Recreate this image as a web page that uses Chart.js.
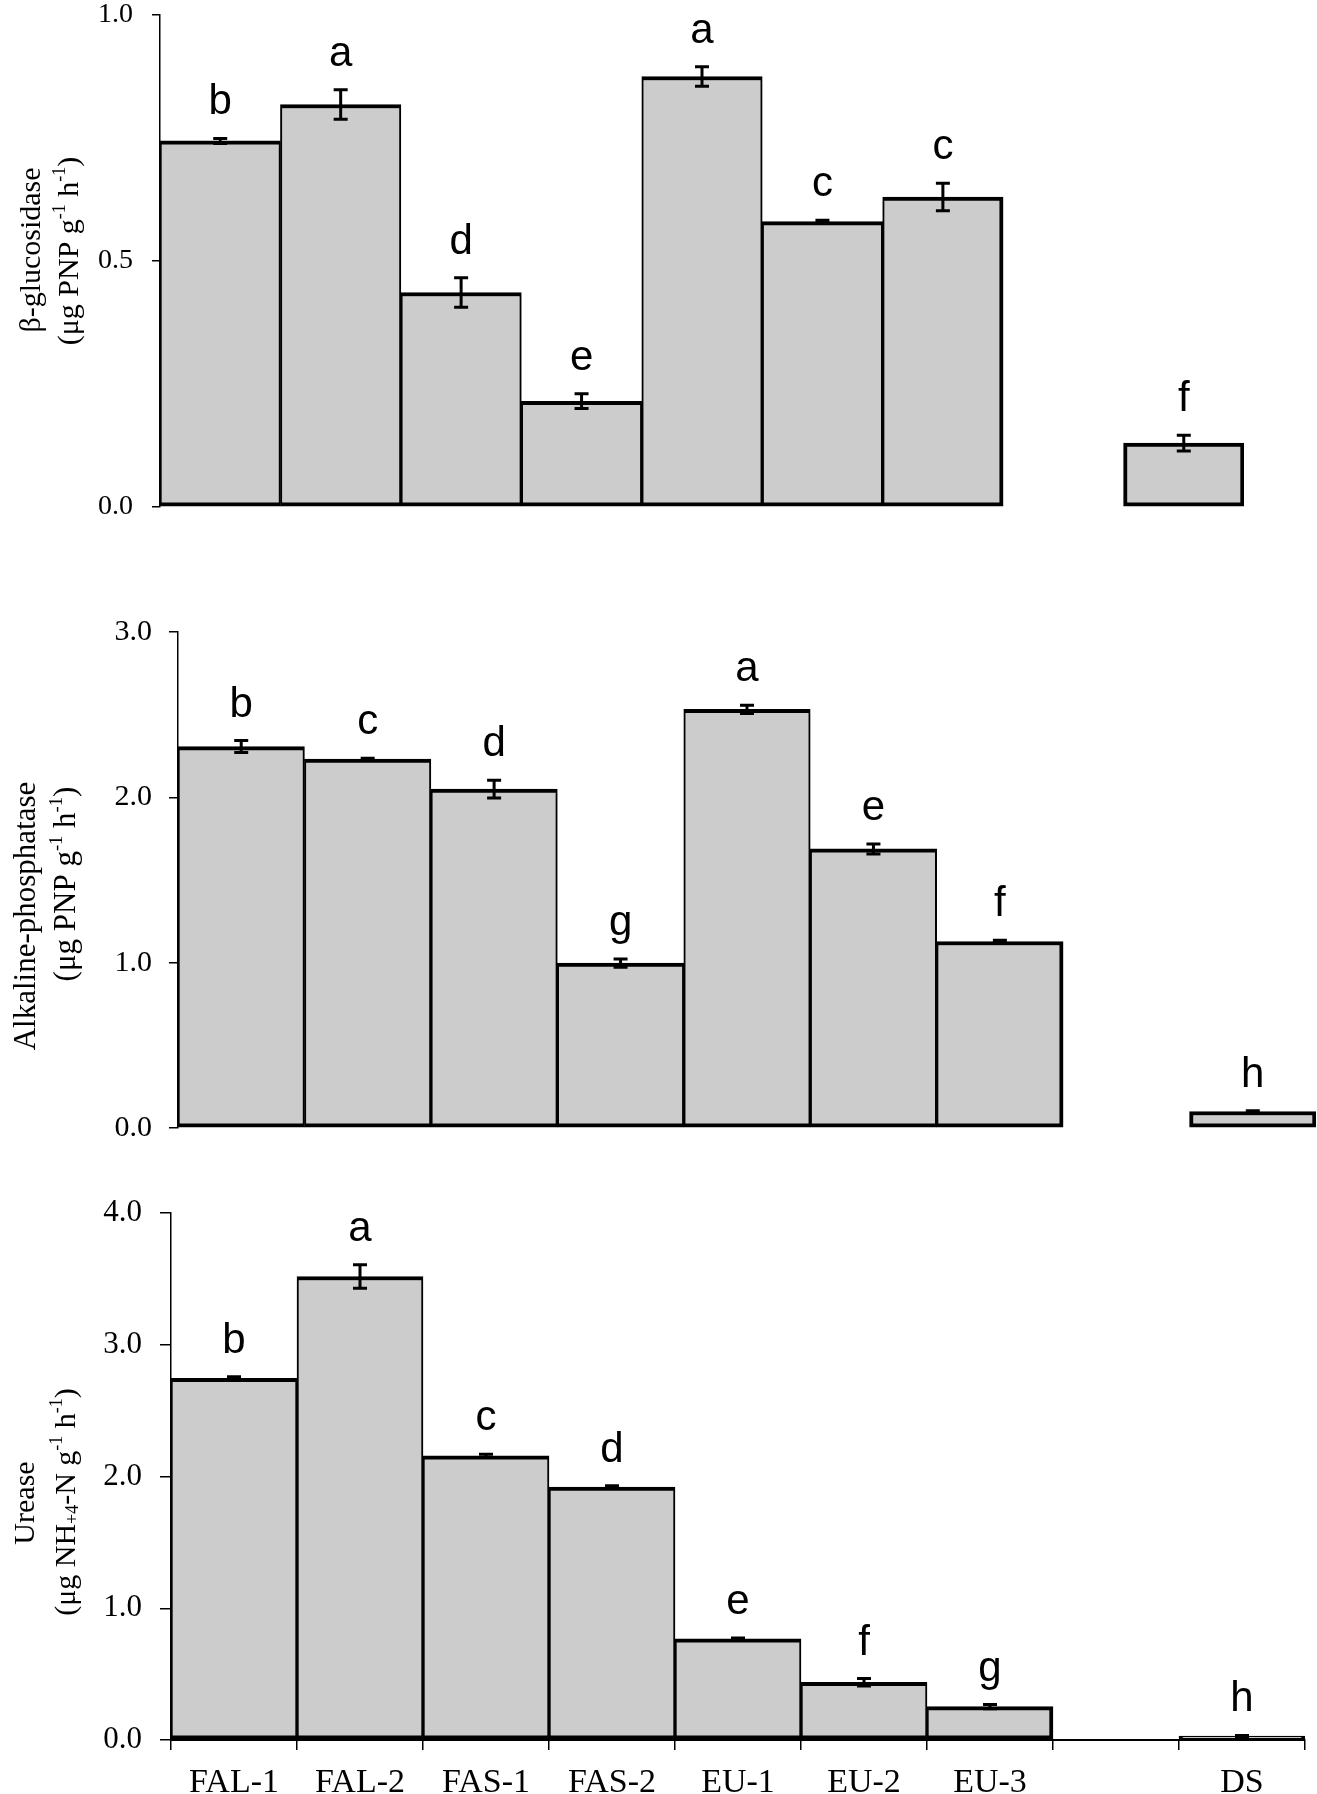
<!DOCTYPE html>
<html>
<head>
<meta charset="utf-8">
<title>Soil enzyme activities</title>
<script src="https://cdn.jsdelivr.net/npm/chart.js@4.4.1/dist/chart.umd.min.js"></script>
<style>
    html, body { margin: 0; padding: 0; background: #fff; overflow: hidden; }
    #page { position: relative; width: 1317px; height: 1794px; overflow: hidden; }
    #page canvas { position: absolute; left: 0; }
</style>
</head>
<body>
<div id="page">
    <canvas id="gluc-chart" width="1317" height="590" style="top:-30px"></canvas>
    <canvas id="phos-chart" width="1317" height="600" style="top:560px"></canvas>
    <canvas id="urea-chart" width="1317" height="634" style="top:1160px"></canvas>
</div>
<script>
// Values; the empty slot keeps the gap before DS.
const categories = ["FAL-1", "FAL-2", "FAS-1", "FAS-2", "EU-1", "EU-2", "EU-3", "", "DS"];

const glucValues  = [0.744, 0.818, 0.436, 0.215, 0.875, 0.580, 0.630, null, 0.130];
const glucErrors  = [0.005, 0.030, 0.030, 0.015, 0.020, 0.003, 0.028, null, 0.016];
const glucLetters = ["b", "a", "d", "e", "a", "c", "c", "", "f"];
const glucTicks   = { max: 1.0, step: 0.5 };

const phosValues  = [2.307, 2.231, 2.050, 0.997, 2.532, 1.688, 1.128, null, 0.100];
const phosErrors  = [0.036, 0.005, 0.054, 0.025, 0.025, 0.030, 0.008, null, 0.005];
const phosLetters = ["b", "c", "d", "g", "a", "e", "f", "", "h"];
const phosTicks   = { max: 3.0, step: 1.0 };

const ureaValues  = [2.746, 3.518, 2.156, 1.919, 0.767, 0.438, 0.253, null, 0.030];
const ureaErrors  = [0.012, 0.089, 0.012, 0.010, 0.008, 0.028, 0.016, null, 0.005];
const ureaLetters = ["b", "a", "c", "d", "e", "f", "g", "", "h"];
const ureaTicks   = { max: 4.0, step: 1.0 };

// Axis titles as [text, kind] runs; kind is "sup", "sub" or empty.
const glucTitle = [
    [["\u03b2-glucosidase"]],
    [["(\u03bcg PNP g"], ["-1", "sup"], [" h"], ["-1", "sup"], [")"]],
];
const phosTitle = [
    [["Alkaline-phosphatase"]],
    [["(\u03bcg PNP g"], ["-1", "sup"], [" h"], ["-1", "sup"], [")"]],
];
const ureaTitle = [
    [["Urease"]],
    [["(\u03bcg NH"], ["+4", "sub"], ["-N g"], ["-1", "sup"], [" h"], ["-1", "sup"], [")"]],
];

const SERIF = '"Liberation Serif", "Times New Roman", serif';
const SANS  = '"Liberation Sans", Arial, sans-serif';

// Error bars plus the significance letter above each one.
const errorBarPlugin = {
    id: "errorBars",
    afterDatasetsDraw(chart) {
        const ds = chart.data.datasets[0];
        const meta = chart.getDatasetMeta(0);
        const y = chart.scales.y;
        const ctx = chart.ctx;
        ctx.save();
        ctx.strokeStyle = "#000";
        ctx.fillStyle = "#000";
        ctx.lineWidth = 3;
        ds.data.forEach((v, i) => {
            if (v == null) return;
            const e = ds.errors[i];
            const x = meta.data[i].x;
            const top = y.getPixelForValue(v + e);
            const bot = y.getPixelForValue(Math.max(v - e, 0));
            ctx.beginPath();
            ctx.moveTo(x, top); ctx.lineTo(x, bot);
            ctx.moveTo(x - 7, top); ctx.lineTo(x + 7, top);
            ctx.moveTo(x - 7, bot); ctx.lineTo(x + 7, bot);
            ctx.stroke();
            if (ds.letters[i]) {
                ctx.font = `42px ${SANS}`;
                ctx.textAlign = "center";
                ctx.textBaseline = "alphabetic";
                ctx.fillText(ds.letters[i], x, top - 24);
            }
        });
        ctx.restore();
    },
};

// Rotated two-line y title with real super/subscripts.
const sideTitlePlugin = {
    id: "sideTitle",
    afterDraw(chart, args, opts) {
        const ctx = chart.ctx;
        opts.lines.forEach((runs, n) => {
            const pos = opts.pos[n];
            ctx.save();
            ctx.translate(pos.x, pos.y);
            ctx.rotate(-Math.PI / 2);
            ctx.fillStyle = "#000";
            ctx.textAlign = "left";
            ctx.textBaseline = "middle";
            const pieces = runs.map(([text, kind]) => {
                const font = `${kind ? opts.size * 0.6 : opts.size}px ${SERIF}`;
                ctx.font = font;
                return { text, kind, font, w: ctx.measureText(text).width };
            });
            let x = -pieces.reduce((s, p) => s + p.w, 0) / 2;
            for (const p of pieces) {
                ctx.font = p.font;
                const dy = p.kind === "sup" ? -opts.size * 0.32 : p.kind === "sub" ? opts.size * 0.2 : 0;
                ctx.fillText(p.text, x, dy);
                x += p.w;
            }
            ctx.restore();
        });
    },
};

function barBorder(c) {
    const d = c.dataset.data;
    const i = c.dataIndex;
    const empty = j => j >= 0 && (j >= d.length || d[j] == null);
    return { top: 4, bottom: 4, left: empty(i - 1) ? 4 : 2, right: empty(i + 1) ? 4 : 2 };
}

function makePanel(id, p) {
    const canvas = document.getElementById(id);
    const W = canvas.width, H = canvas.height;
    return new Chart(canvas, {
        type: "bar",
        data: {
            labels: categories,
            datasets: [{
                data: p.values,
                errors: p.errors,
                letters: p.letters,
                backgroundColor: "#cccccc",
                borderColor: "#000",
                borderWidth: barBorder,
                borderSkipped: false,
                barPercentage: 1.0,
                categoryPercentage: 1.0,
            }],
        },
        options: {
            responsive: false,
            animation: false,
            layout: {
                padding: {
                    left: 0,
                    top: p.area.top,
                    right: W - p.area.right,
                    bottom: p.showX ? 0 : H - p.area.bottom,
                },
            },
            plugins: {
                legend: { display: false },
                tooltip: { enabled: false },
                sideTitle: { lines: p.title, pos: p.titlePos, size: p.titleSize },
            },
            scales: {
                x: {
                    display: p.showX,
                    afterFit: s => { s.height = p.showX ? H - p.area.bottom : 0; },
                    border: { display: true, color: "#000", width: 2 },
                    grid: {
                        offset: true,
                        drawOnChartArea: false,
                        drawTicks: true,
                        tickLength: 10,
                        color: "#000",
                        lineWidth: 1.5,
                    },
                    ticks: {
                        autoSkip: false,
                        maxRotation: 0,
                        padding: 13,
                        color: "#000",
                        font: { family: SERIF, size: 34, lineHeight: 1.2 },
                    },
                },
                y: {
                    min: 0,
                    max: p.ticks.max,
                    afterFit: s => { s.width = p.area.left; },
                    border: { display: true, color: "#000", width: 1.5 },
                    grid: {
                        drawOnChartArea: false,
                        tickLength: p.tickLen,
                        color: "#000",
                        lineWidth: 1.5,
                    },
                    ticks: {
                        stepSize: p.ticks.step,
                        padding: p.tickPad,
                        color: "#000",
                        font: { family: SERIF, size: p.tickSize, lineHeight: 1 },
                        callback: v => Number(v).toFixed(1),
                    },
                },
            },
        },
        plugins: [errorBarPlugin, sideTitlePlugin],
    });
}

// Canvas-local coordinates: the first canvas starts 30px above the page.
makePanel("gluc-chart", {
    values: glucValues, errors: glucErrors, letters: glucLetters, ticks: glucTicks,
    area: { left: 160, right: 1244, top: 45, bottom: 537 },
    showX: false, tickSize: 28, tickLen: 8, tickPad: 19,
    title: glucTitle, titleSize: 30,
    titlePos: [{ x: 32, y: 280 }, { x: 70, y: 281 }],
});

makePanel("phos-chart", {
    values: phosValues, errors: phosErrors, letters: phosLetters, ticks: phosTicks,
    area: { left: 178, right: 1316, top: 72, bottom: 569 },
    showX: false, tickSize: 30, tickLen: 9, tickPad: 17,
    title: phosTitle, titleSize: 31,
    titlePos: [{ x: 27, y: 356 }, { x: 67, y: 324 }],
});

makePanel("urea-chart", {
    values: ureaValues, errors: ureaErrors, letters: ureaLetters, ticks: ureaTicks,
    area: { left: 171, right: 1305, top: 53, bottom: 580 },
    showX: true, tickSize: 31, tickLen: 11, tickPad: 18,
    title: ureaTitle, titleSize: 30,
    titlePos: [{ x: 26, y: 343 }, { x: 67, y: 342 }],
});
</script>
</body>
</html>
